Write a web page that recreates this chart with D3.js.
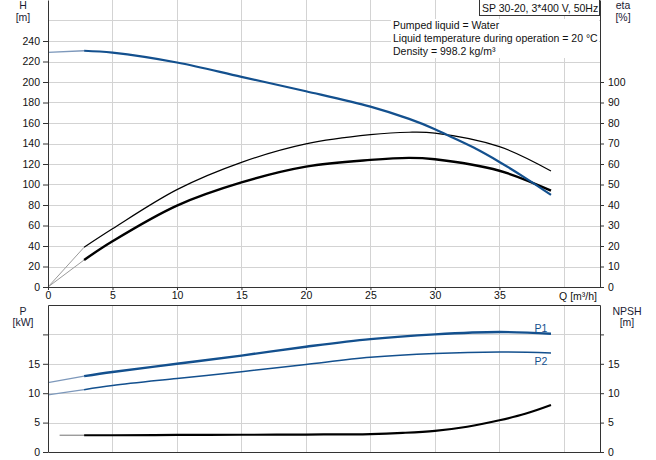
<!DOCTYPE html>
<html>
<head>
<meta charset="utf-8">
<script src="https://cdn.jsdelivr.net/npm/d3@7/dist/d3.min.js"></script>
<style>
  html, body { margin: 0; padding: 0; background: #fff; }
  svg { display: block; font-family: "Liberation Sans", Arial, sans-serif; }
  .tick text { font-size: 10.5px; fill: #111; }
</style>
</head>
<body>
<svg id="chart" width="656" height="460"></svg>
<script>
// ---------- data ----------
const Q_TICKS = [0, 5, 10, 15, 20, 25, 30, 35];
const Q_GRID = [5, 10, 15, 20, 25, 30, 35, 40];
const H_TICKS = [0, 20, 40, 60, 80, 100, 120, 140, 160, 180, 200, 220, 240];
const H_GRID = [20, 40, 60, 80, 100, 120, 140, 160, 180, 200, 220, 240, 260];
const ETA_TICKS = [0, 10, 20, 30, 40, 50, 60, 70, 80, 90, 100];
const P_TICKS = [0, 5, 10, 15, 20];
const P_LABELS = ["0", "5", "10", "15", ""];
const NPSH_TICKS = [0, 5, 10, 15, 20];
const NPSH_LABELS = ["0", "5", "10", "15", ""];

const Q_START = 2.8;   // start of operating range (thick part)

const H_Q   = [0, 2.8, 5, 10, 15, 20, 25, 28, 30, 31, 33, 35, 37, 39];
const H_VAL = [229, 230.5, 228.6, 219, 205, 191, 176, 164, 154, 148, 136, 122, 106.5, 89.8];

const ETA_Q      = [0, 2.8, 5, 10, 15, 20, 25, 28, 30, 35, 39];
const ETA_PUMP   = [0, 19.4, 28.4, 47.5, 60.8, 69.8, 74.3, 75.5, 75.1, 68.5, 56.6];
const ETA_TOTAL  = [0, 13.2, 22.3, 39.7, 51, 58.7, 62, 63, 62.3, 56.7, 47];

const P_Q  = [0, 2.8, 5, 10, 15, 20, 25, 30, 35, 39];
const P1   = [11.8, 12.9, 13.6, 15.0, 16.4, 17.9, 19.2, 20.0, 20.4, 20.1];
const P2   = [9.7, 10.6, 11.3, 12.5, 13.65, 14.9, 16.1, 16.75, 17.0, 16.85];

const NPSH_Q   = [0.9, 2.8, 5, 10, 15, 20, 25, 27.5, 30, 32.5, 35, 37, 39];
const NPSH_VAL = [2.85, 2.85, 2.85, 2.9, 2.93, 2.97, 3.05, 3.25, 3.6, 4.3, 5.4, 6.5, 8.0];

const INFO_TITLE = "SP 30-20, 3*400 V, 50Hz";
const INFO_LINES = ["Pumped liquid = Water",
                    "Liquid temperature during operation = 20 °C",
                    "Density = 998.2 kg/m³"];

// ---------- layout ----------
const BLUE = "#13508e";
const GRID = "#d3d3d3";
const AXIS = "#333";
const svg = d3.select("#chart");

const x = d3.scaleLinear().domain([0, 42.8]).range([48, 600]);
const yH = d3.scaleLinear().domain([0, 280]).range([287, 0]);
const yEta = d3.scaleLinear().domain([0, 140]).range([287, 0]);
const yP = d3.scaleLinear().domain([0, 25]).range([452, 305]);
const yN = d3.scaleLinear().domain([0, 25]).range([452, 305]);

// ---------- grids ----------
const g = svg.append("g");
g.selectAll(".vgTop").data(Q_GRID).join("line")
  .attr("x1", d => Math.round(x(d)) + 0.5).attr("x2", d => Math.round(x(d)) + 0.5)
  .attr("y1", yH(280)).attr("y2", yH(0))
  .attr("stroke", GRID);
g.selectAll(".hgTop").data(H_GRID).join("line")
  .attr("x1", x(0)).attr("x2", x(42.8))
  .attr("y1", d => Math.round(yH(d)) + 0.5).attr("y2", d => Math.round(yH(d)) + 0.5)
  .attr("stroke", GRID);
g.selectAll(".vgBot").data(Q_GRID).join("line")
  .attr("x1", d => Math.round(x(d)) + 0.5).attr("x2", d => Math.round(x(d)) + 0.5)
  .attr("y1", yP(25)).attr("y2", yP(0))
  .attr("stroke", GRID);
g.selectAll(".hgBot").data([5, 10, 15, 20]).join("line")
  .attr("x1", x(0)).attr("x2", x(42.8))
  .attr("y1", d => Math.round(yP(d)) + 0.5).attr("y2", d => Math.round(yP(d)) + 0.5)
  .attr("stroke", GRID);

// ---------- curves ----------
function zip(qs, vs) { return qs.map((q, i) => ({q: q, v: vs[i]})); }
function drawCurve(qs, vs, yScale, color, width, thinColor, thinWidth) {
  const data = zip(qs, vs);
  const line = d3.line().x(d => x(d.q)).y(d => yScale(d.v)).curve(d3.curveCatmullRom.alpha(0.5));
  const pre = data.filter(d => d.q <= Q_START);
  const main = data.filter(d => d.q >= Q_START);
  if (pre.length > 1) {
    svg.append("path").datum(pre).attr("d", line)
      .attr("fill", "none").attr("stroke", thinColor).attr("stroke-width", thinWidth);
  }
  svg.append("path").datum(main).attr("d", line)
    .attr("fill", "none").attr("stroke", color).attr("stroke-width", width)
    .attr("stroke-linejoin", "round");
}

drawCurve(ETA_Q, ETA_PUMP, yEta, "#000", 1.2, "#9a9a9a", 1);
drawCurve(ETA_Q, ETA_TOTAL, yEta, "#000", 2.4, "#9a9a9a", 1);
drawCurve(H_Q, H_VAL, yH, BLUE, 2.2, "#7d98bb", 1.3);

drawCurve(P_Q, P1, yP, BLUE, 2.4, "#7d98bb", 1.3);
drawCurve(P_Q, P2, yP, BLUE, 1.5, "#7d98bb", 1.2);
drawCurve(NPSH_Q, NPSH_VAL, yN, "#000", 2.2, "#8a8a8a", 1.2);

// ---------- axes ----------
function styleAxis(sel) {
  sel.selectAll("path.domain").attr("stroke", AXIS);
  sel.selectAll(".tick line").attr("stroke", AXIS);
  sel.selectAll(".tick text").attr("fill", "#111").style("font-size", "10.5px");
}
svg.append("g").attr("transform", "translate(48,0)")
  .call(d3.axisLeft(yH).tickValues(H_TICKS).tickSize(5).tickSizeOuter(0).tickPadding(3))
  .call(styleAxis);
svg.append("g").attr("transform", "translate(600,0)")
  .call(d3.axisRight(yEta).tickValues(ETA_TICKS).tickSize(4).tickSizeOuter(0).tickPadding(4))
  .call(styleAxis);
svg.append("g").attr("transform", "translate(0,287)")
  .call(d3.axisBottom(x).tickValues(Q_TICKS).tickSize(3).tickSizeOuter(0).tickPadding(2))
  .call(styleAxis);

svg.append("g").attr("transform", "translate(48,0)")
  .call(d3.axisLeft(yP).tickValues(P_TICKS).tickFormat((d, i) => P_LABELS[i]).tickSize(5).tickSizeOuter(0).tickPadding(3))
  .call(styleAxis);
svg.append("g").attr("transform", "translate(600,0)")
  .call(d3.axisRight(yN).tickValues(NPSH_TICKS).tickFormat((d, i) => NPSH_LABELS[i]).tickSize(4).tickSizeOuter(0).tickPadding(4))
  .call(styleAxis);
// top and bottom borders of lower plot
svg.append("g").attr("transform", "translate(0,305)")
  .call(d3.axisTop(x).tickValues([]).tickSizeOuter(0)).call(styleAxis);
svg.append("g").attr("transform", "translate(0,452)")
  .call(d3.axisBottom(x).tickValues([]).tickSizeOuter(0)).call(styleAxis);

// ---------- texts ----------
const txt = (t, xx, yy, anchor, col) => svg.append("text").text(t)
  .attr("x", xx).attr("y", yy).attr("text-anchor", anchor || "start")
  .attr("fill", col || "#1a1a33").style("font-size", "10.5px");

txt("Q [m³/h]", 597, 300, "end", "#111");
txt("H", 23, 9, "middle");
txt("[m]", 23, 21, "middle");
txt("eta", 623, 9, "middle");
txt("[%]", 623, 21, "middle");
txt("P", 23, 315, "middle");
txt("[kW]", 23, 326, "middle");
txt("NPSH", 627, 315, "middle");
txt("[m]", 627, 326, "middle");

txt("P1", 541, 331.5, "middle", BLUE);
txt("P2", 541, 364.8, "middle", BLUE);

// info block
svg.append("rect").attr("x", 391).attr("y", 19).attr("width", 208).attr("height", 39)
  .attr("fill", "#fff");
INFO_LINES.forEach((t, i) => txt(t, 393, 29 + i * 12.8, "start", "#111"));
svg.append("rect").attr("x", 479.5).attr("y", -0.5).attr("width", 120).attr("height", 16)
  .attr("fill", "#fff").attr("stroke", AXIS);
txt(INFO_TITLE, 482, 11.5, "start", "#111");
</script>
</body>
</html>
